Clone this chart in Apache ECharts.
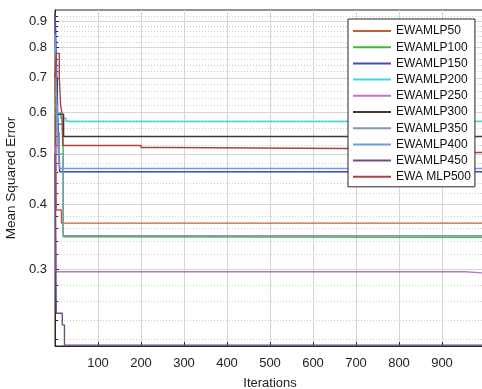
<!DOCTYPE html>
<html>
<head>
<meta charset="utf-8">
<script src="https://cdn.jsdelivr.net/npm/echarts@6/dist/echarts.min.js"></script>
<style>
  html, body { margin: 0; padding: 0; background: #fff; }
  #chart { width: 482px; height: 389px; }
</style>
</head>
<body>
<div id="chart"></div>
<script>
// [iteration, MSE] change points (stair-step curves)
const ewamlp50 = [[0, 0.71], [2, 0.60], [3, 0.39], [15, 0.368], [1000, 0.368]];
const ewamlp100 = [[0, 0.60], [5, 0.57], [19, 0.3465], [65, 0.3457], [1000, 0.3457]];
const ewamlp150 = [[0, 0.93], [3, 0.75], [6, 0.60], [9, 0.50], [11, 0.462], [1000, 0.462]];
const ewamlp200 = [[0, 0.65], [5, 0.60], [13, 0.585], [26, 0.577], [1000, 0.577]];
const ewamlp250 = [[0, 0.52], [2, 0.2968], [955, 0.2968], [957, 0.295], [1000, 0.295]];
const ewamlp300 = [[0, 0.70], [5, 0.596], [20, 0.540], [1000, 0.540]];
const ewamlp350 = [[0, 0.62], [5, 0.55], [10, 0.50], [19, 0.348], [1000, 0.348]];
const ewamlp400 = [[0, 0.85], [4, 0.62], [8, 0.50], [11, 0.4687], [1000, 0.4687]];
const ewamlp450 = [[0, 0.50], [3, 0.247], [17, 0.2346], [22, 0.2145], [1000, 0.2145]];
const ewamlp500 = [[0, 0.70], [3, 0.78], [10, 0.70], [13, 0.62], [16, 0.60], [18, 0.519],
  [200, 0.5143], [265, 0.5102], [975, 0.503], [1000, 0.503]];

const seriesNames = ['EWAMLP50', 'EWAMLP100', 'EWAMLP150', 'EWAMLP200', 'EWAMLP250',
  'EWAMLP300', 'EWAMLP350', 'EWAMLP400', 'EWAMLP450', 'EWA MLP500'];
const seriesData = [ewamlp50, ewamlp100, ewamlp150, ewamlp200, ewamlp250,
  ewamlp300, ewamlp350, ewamlp400, ewamlp450, ewamlp500];
const seriesColors = ['#c0603a', '#3cb83c', '#4b4baa', '#3fd8d8', '#c070d0',
  '#3a3a3a', '#7a9ab8', '#6a9ae8', '#6e5080', '#b04040'];

// axis ticks
const xTicks = [0, 100, 200, 300, 400, 500, 600, 700, 800, 900, 1000];
const yMajorTicks = [0.3, 0.4, 0.5, 0.6, 0.7, 0.8, 0.9];
const yMinorTicks = [0.22, 0.24, 0.26, 0.28, 0.32, 0.34, 0.36, 0.38, 0.42, 0.44, 0.46, 0.48,
  0.52, 0.54, 0.56, 0.58, 0.62, 0.64, 0.66, 0.68, 0.72, 0.74, 0.76, 0.78,
  0.82, 0.84, 0.86, 0.88, 0.92];

const yMin = 0.2137;
const yMax = 0.945;
const font = 'Liberation Sans, Arial, sans-serif';

const chart = echarts.init(document.getElementById('chart'), null, { renderer: 'canvas' });

const option = {
  backgroundColor: '#ffffff',
  animation: false,
  grid: {
    left: 55, right: -3, top: 10, bottom: 43,
    outerBoundsMode: 'none',
    show: true, borderColor: '#262626', borderWidth: 1
  },
  legend: {
    orient: 'vertical',
    left: 348, top: 19,
    itemWidth: 38, itemHeight: 14, itemGap: 4.2,
    padding: [6, 4, 4, 4],
    backgroundColor: '#ffffff',
    borderColor: '#262626', borderWidth: 1,
    itemStyle: { opacity: 0 },
    textStyle: { fontFamily: font, fontSize: 12, color: '#111' },
    data: seriesNames
  },
  xAxis: {
    type: 'value',
    min: 0, max: 1000, interval: 100,
    name: 'Iterations', nameLocation: 'middle', nameGap: 31,
    nameTextStyle: { fontFamily: font, fontSize: 13, color: '#222' },
    axisLine: { show: true, lineStyle: { color: '#262626' } },
    axisTick: { show: true, inside: true, length: 4, lineStyle: { color: '#262626' } },
    axisLabel: {
      fontFamily: font, fontSize: 13, color: '#222', margin: 11,
      formatter: v => (v === xTicks[0] || v === xTicks[xTicks.length - 1]) ? '' : String(v)
    },
    splitLine: { show: true, lineStyle: { color: '#d6d6d6', width: 1 } }
  },
  yAxis: [
    {
      type: 'log', logBase: 10,
      min: yMin, max: yMax,
      name: 'Mean Squared Error', nameLocation: 'middle', nameGap: 31,
      nameTextStyle: { fontFamily: font, fontSize: 13.5, color: '#222' },
      axisLine: { show: true, lineStyle: { color: '#262626' } },
      axisTick: { show: true, inside: true, length: 4, customValues: yMajorTicks,
        lineStyle: { color: '#262626' } },
      axisLabel: { fontFamily: font, fontSize: 13, color: '#222', margin: 8,
        customValues: yMajorTicks, formatter: v => v.toFixed(1) },
      splitLine: { show: true, lineStyle: { color: '#d6d6d6', width: 1 } },
      z: 2
    },
    {
      type: 'log', logBase: 10,
      min: yMin, max: yMax,
      position: 'left',
      axisLine: { show: false },
      axisTick: { show: true, inside: true, length: 3, customValues: yMinorTicks,
        lineStyle: { color: '#262626' } },
      axisLabel: { show: false },
      splitLine: { show: true, lineStyle: { color: '#cbcbcb', width: 1, type: [1, 2] } },
      z: 1
    }
  ],
  series: seriesNames.map((name, i) => ({
    name: name,
    type: 'line',
    step: 'end',
    yAxisIndex: 0,
    symbol: 'none',
    data: seriesData[i],
    color: seriesColors[i],
    lineStyle: { width: name === 'EWAMLP150' ? 1.7 : 1.4, color: seriesColors[i] },
    z: 3
  }))
};

chart.setOption(option);
</script>
</body>
</html>
